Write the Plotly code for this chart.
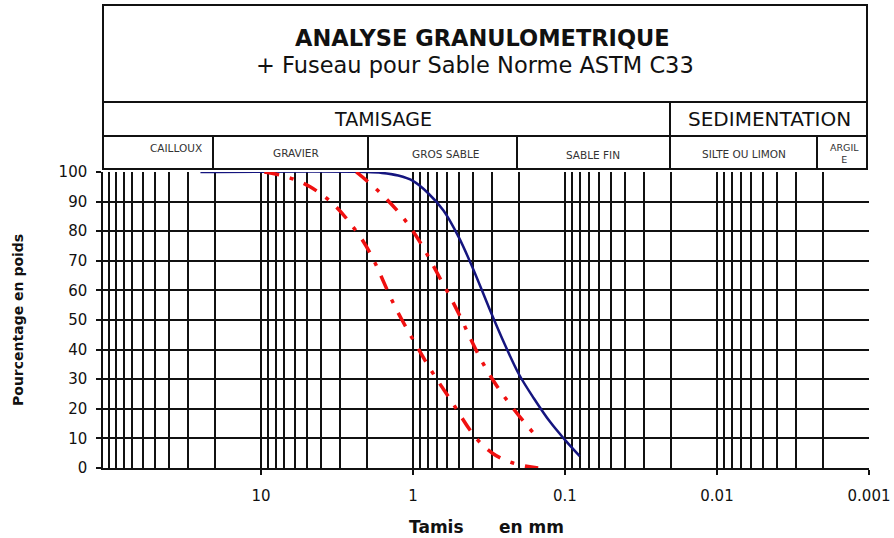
import plotly.graph_objects as go

# ---------------- data ----------------
# Fuseau ASTM C33 (lower limit / upper limit), sieve sizes in mm, % passing
lower_mm = [9.5, 4.75, 2.36, 1.18, 0.6, 0.3, 0.15]
lower_pct = [100, 95, 80, 50, 25, 5, 0]
upper_mm = [2.36, 1.18, 0.6, 0.3, 0.15]
upper_pct = [100, 85, 60, 30, 10]
# sample curve
sample_mm = [25, 2, 1.6, 1.25, 1.0, 0.8, 0.63, 0.5, 0.4, 0.315, 0.25, 0.2, 0.16, 0.125, 0.1, 0.08]
sample_pct = [100, 100, 99.7, 98.8, 97, 93, 87, 78, 67, 54, 42, 31.5, 23.5, 15.5, 9.5, 4]

x_tick_vals = [10, 1, 0.1, 0.01, 0.001]
x_tick_text = ["10", "1", "0.1", "0.01", "0.001"]
y_tick_vals = [0, 10, 20, 30, 40, 50, 60, 70, 80, 90, 100]

title_text = "ANALYSE GRANULOMETRIQUE"
subtitle_text = "+ Fuseau pour Sable Norme ASTM C33"
main_zones = ["TAMISAGE", "SEDIMENTATION"]
sub_zones = ["CAILLOUX", "GRAVIER", "GROS SABLE", "SABLE FIN", "SILTE OU LIMON", "ARGIL<br>E"]
y_title = "Pourcentage en poids"
x_title_parts = ["Tamis", "en mm"]

# ---------------- layout geometry (pixels) ----------------
FW, FH = 894, 538
L, R, T, B = 103, 869, 172, 468
PW, PH = R - L, B - T


def PX(x):
    return (x - L) / PW


def PY(y):
    return (B - y) / PH


RED = "#f01010"
BLUE = "#15157f"
GRID = "#111111"
DASH = "15px,11px,4px,11px"

fig = go.Figure()

fig.add_trace(go.Scatter(
    x=sample_mm, y=sample_pct, mode="lines",
    line=dict(color=BLUE, width=2.5, shape="spline", smoothing=1.0),
    showlegend=False, hoverinfo="x+y"))
fig.add_trace(go.Scatter(
    x=lower_mm, y=lower_pct, mode="lines",
    line=dict(color=RED, width=3.5, dash=DASH, shape="spline", smoothing=1.2),
    showlegend=False, hoverinfo="x+y"))
fig.add_trace(go.Scatter(
    x=upper_mm, y=upper_pct, mode="lines",
    line=dict(color=RED, width=3.5, dash=DASH, shape="spline", smoothing=1.2),
    showlegend=False, hoverinfo="x+y"))

fig.update_layout(
    width=FW, height=FH,
    margin=dict(l=L, r=FW - R, t=T, b=FH - B, pad=0, autoexpand=False),
    paper_bgcolor="white", plot_bgcolor="white",
    showlegend=False,
    font=dict(family="DejaVu Sans, Arial, sans-serif", color="#111"),
)

fig.update_xaxes(
    type="log", range=[2.039, -3], autorange=False, automargin=False,
    tickmode="array", tickvals=x_tick_vals, ticktext=x_tick_text,
    ticks="outside", ticklen=5, tickwidth=1.5, tickcolor=GRID,
    ticklabelstandoff=8,
    tickfont=dict(family="DejaVu Sans", size=15, color="#111"),
    showgrid=True, gridcolor=GRID, gridwidth=1.5,
    minor=dict(dtick="D1", showgrid=True, gridcolor=GRID, gridwidth=1.5, ticks=""),
    showline=True, linecolor=GRID, linewidth=1.5,
    zeroline=False,
)
fig.update_yaxes(
    range=[0, 100], autorange=False, automargin=False,
    tickmode="array", tickvals=y_tick_vals,
    ticks="outside", ticklen=5, tickwidth=1.5, tickcolor=GRID,
    ticklabelstandoff=6,
    tickfont=dict(family="DejaVu Sans", size=15, color="#111"),
    showgrid=True, gridcolor=GRID, gridwidth=1.5,
    showline=True, linecolor=GRID, linewidth=1.5,
    zeroline=False,
)

# ---------------- header table ----------------
shapes = []
line_style = dict(color="#111", width=2)
shapes.append(dict(type="rect", xref="paper", yref="paper",
                   x0=PX(103), x1=PX(867), y0=PY(169), y1=PY(5), line=line_style))
for yy in (102, 136):
    shapes.append(dict(type="line", xref="paper", yref="paper",
                       x0=PX(103), x1=PX(867), y0=PY(yy), y1=PY(yy), line=line_style))
shapes.append(dict(type="line", xref="paper", yref="paper",
                   x0=PX(670), x1=PX(670), y0=PY(102), y1=PY(169), line=line_style))
for xx in (213, 368, 517, 817):
    shapes.append(dict(type="line", xref="paper", yref="paper",
                       x0=PX(xx), x1=PX(xx), y0=PY(136), y1=PY(169), line=line_style))
fig.update_layout(shapes=shapes)

ann = []


def add_text(text, x, y, size, bold=False, color="#111", angle=0, family="DejaVu Sans"):
    ann.append(dict(text=("<b>%s</b>" % text) if bold else text,
                    xref="paper", yref="paper", x=PX(x), y=PY(y),
                    xanchor="center", yanchor="middle", showarrow=False,
                    textangle=angle,
                    font=dict(family=family, size=size, color=color)))


add_text(title_text, 482, 38.5, 22.5, bold=True)
add_text(subtitle_text, 475, 64.5, 22.5)
add_text(main_zones[0], 383, 119, 19)
add_text(main_zones[1], 769.5, 119.5, 20)
sub_pos = [(175.5, 147.5), (295.5, 152.5), (445, 154), (593, 155), (743.5, 153.5), (844, 153.5)]
sub_size = [10.5, 10.5, 10.5, 10.5, 10.5, 9.5]
for lab, (xx, yy), sz in zip(sub_zones, sub_pos, sub_size):
    add_text(lab, xx, yy, sz, color="#333")

# axis titles
add_text(y_title, 18, 320, 14, bold=True, angle=-90)
add_text(x_title_parts[0], 436, 527, 17, bold=True)
add_text(x_title_parts[1], 531, 527, 17, bold=True)

fig.update_layout(annotations=ann)

fig.write_html("out.html")
